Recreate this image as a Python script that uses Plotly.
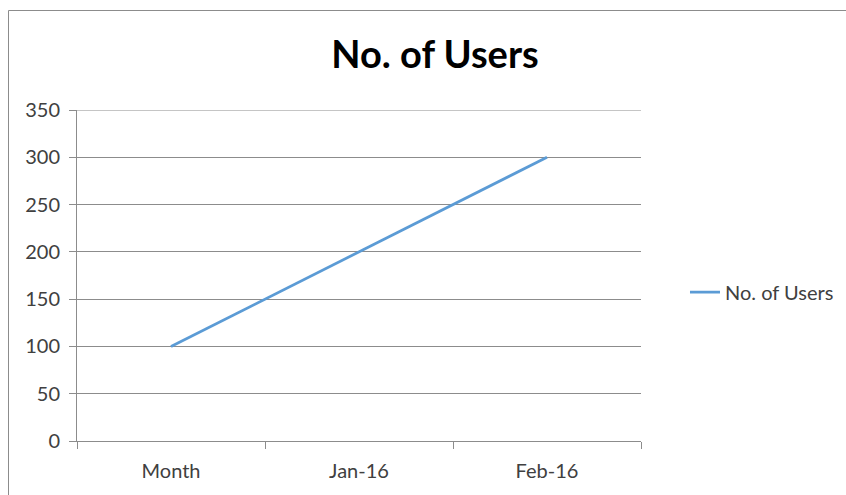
import plotly.graph_objects as go

# Monthly user counts
categories = ["Month", "Jan-16", "Feb-16"]
users = [100, 200, 300]
y_ticks = [0, 50, 100, 150, 200, 250, 300, 350]
series_name = "No. of Users"

FONT = "Lato"
AXIS_GREY = "#8c8c8c"
TEXT = "#404040"

fig = go.Figure()
fig.add_trace(go.Scatter(
    x=categories, y=users, mode="lines", name=series_name,
    line=dict(color="#5B9BD5", width=2.75),
))

fig.update_layout(
    width=846, height=495,
    margin=dict(l=77, r=205, t=110, b=54, autoexpand=False),
    paper_bgcolor="white", plot_bgcolor="white",
    font=dict(family=FONT, size=20, color=TEXT),
    title=dict(text="<b>No. of Users</b>", x=(435 - 77) / 564, xref="paper",
               xanchor="center", y=1 - 55 / 495, yanchor="middle",
               font=dict(family=FONT, size=38, color="#000000")),
    showlegend=True,
    legend=dict(x=1.078, xanchor="left", y=0.45, yanchor="middle",
                font=dict(family=FONT, size=20, color=TEXT),
                bgcolor="rgba(0,0,0,0)"),
    xaxis=dict(
        type="category", range=[-0.5, 2.5], tickson="boundaries",
        showline=True, linecolor=AXIS_GREY, linewidth=1,
        ticks="outside", ticklen=7, tickcolor=AXIS_GREY,
        showgrid=False, zeroline=False, ticklabelstandoff=12,
    ),
    yaxis=dict(
        range=[0, 350], tickvals=y_ticks,
        showline=True, linecolor=AXIS_GREY, linewidth=1,
        ticks="outside", ticklen=7, tickcolor=AXIS_GREY,
        showgrid=True, gridcolor=AXIS_GREY, gridwidth=1,
        zeroline=False, ticklabelstandoff=5,
    ),
    shapes=[
        # chart-area border
        dict(type="rect", xref="paper", yref="paper",
             x0=(8.5 - 77) / 564, x1=2.0,
             y0=-1.0, y1=(441 - 10.5) / 331,
             line=dict(color=AXIS_GREY, width=1), layer="below"),
        # gridline at the top of the value axis
        dict(type="line", xref="paper", yref="y",
             x0=0, x1=1, y0=y_ticks[-1], y1=y_ticks[-1],
             line=dict(color=AXIS_GREY, width=1), layer="below"),
    ],
)

fig.write_html("out.html")
